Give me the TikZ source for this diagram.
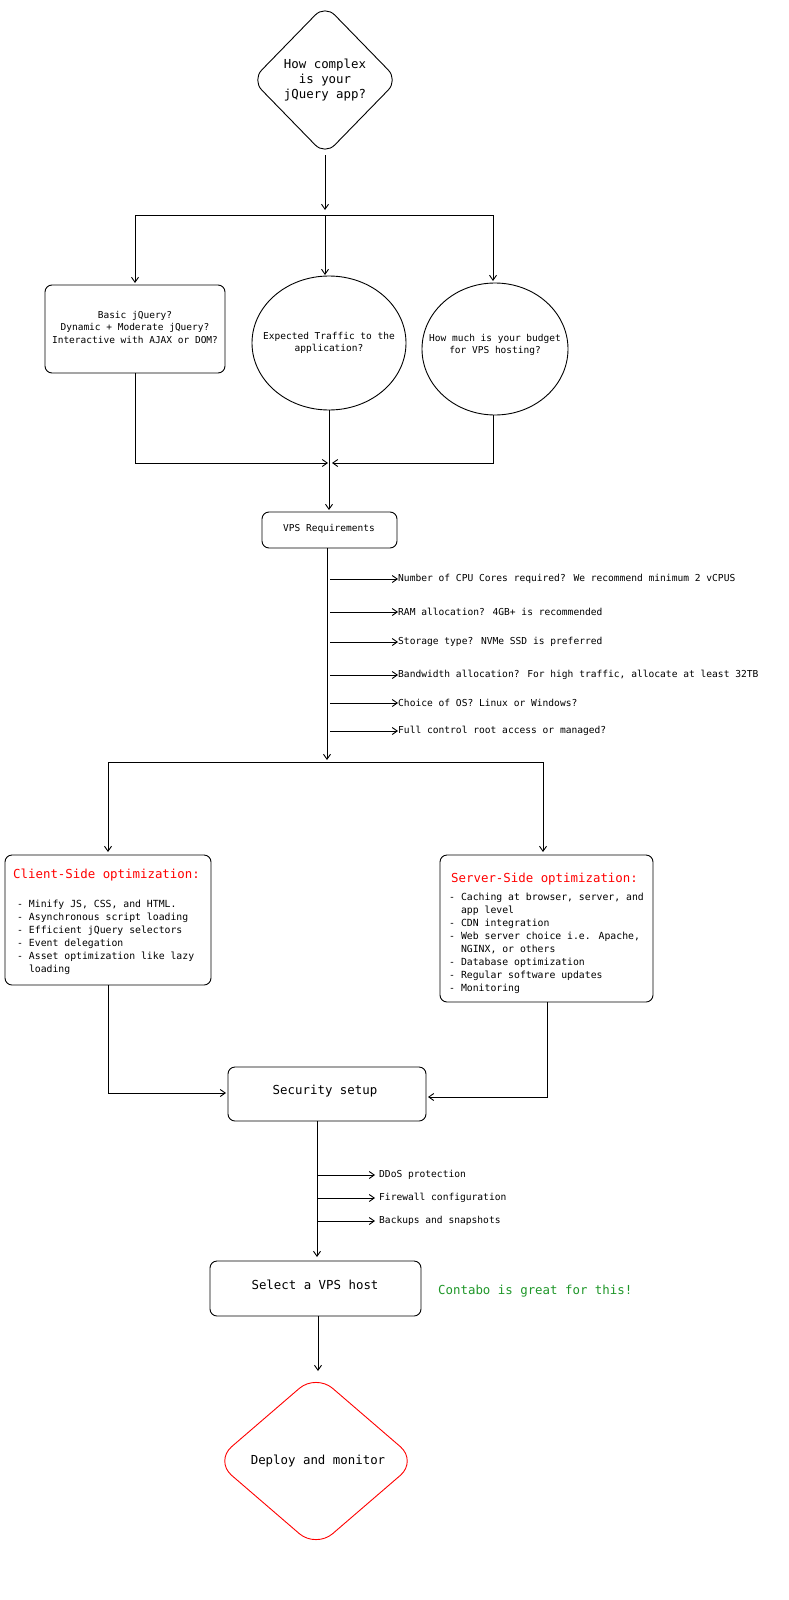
\documentclass[tikz,border=0pt]{standalone}
\usepackage{fontspec}
\setmainfont{DejaVu Sans Mono}
\usetikzlibrary{arrows.meta}
\begin{document}
\begin{tikzpicture}[x=1pt,y=-1pt,
  ln/.style={draw=black,line width=0.9pt},
  ar/.style={ln,-{Straight Barb[length=5pt,width=7pt]}},
  box/.style={draw=black,line width=0.9pt,rounded corners=7pt},
  t/.style={font=\fontsize{9.5}{12.5}\selectfont,align=center},
  big/.style={font=\fontsize{12.4}{15}\selectfont,align=center},
  tl/.style={font=\fontsize{9.6}{12}\selectfont,anchor=west},
  lst/.style={font=\fontsize{9.8}{13}\selectfont,align=left,anchor=north west,inner sep=0pt}]
\useasboundingbox (0,0) rectangle (788,1600);
% top diamond
\draw[box,rounded corners=14pt] (325,5) -- (398,80) -- (325,155) -- (252,80) -- cycle;
\node[big] (d1) at (325,80) {How complex\\is your\\jQuery app?};
\coordinate (d1b) at (325,155);
\coordinate (s1) at (325,215);
\draw[ar] (d1b) -- (325,210);
\coordinate (hl) at (135,215); \coordinate (hr) at (493,215);
\draw[ln] (hl) -- (hr);
% row 2
\draw[box] (45,285) rectangle (225,373);
\node[t] (b1) at (135,327) {Basic jQuery?\\Dynamic + Moderate jQuery?\\Interactive with AJAX or DOM?};
\draw[ln] (329,343) ellipse (77 and 67);
\node[t] (c2) at (329,343) {Expected Traffic to the\\application?};
\draw[ln] (495,349) ellipse (73 and 66);
\node[t] (c3) at (495,345) {How much is your budget\\for VPS hosting?};
\draw[ar] (hl) -- (135,283);
\draw[ar] (s1) -- (325,275);
\draw[ar] (hr) -- (493,281);
% merge
\draw[ar] (135,373) -- (135,463) -- (328,463);
\draw[ar] (493,415) -- (493,463) -- (332,463);
\draw[ar] (329,410) -- (329,510);
% VPS box
\draw[box] (262,512) rectangle (397,548);
\node[t] (vps) at (329,529) {VPS Requirements};
\draw[ar] (327,548) -- (327,760);
\foreach \y/\tx in {579/{Number of CPU Cores required? We recommend minimum 2 vCPUS},
  612/{ RAM allocation? 4GB+ is recommended},
  642/{Storage type? NVMe SSD is preferred},
  675/{ Bandwidth allocation? For high traffic, allocate at least 32TB},
  703/{ Choice of OS? Linux or Windows?},
  731/{ Full control root access or managed?}}{
  \draw[ar] (330,\y) -- (398,\y);
  \node[tl,inner sep=0pt] at (398,\y) {\tx};
}
\coordinate (h2l) at (108,762); \coordinate (h2r) at (543,762);
\draw[ln] (h2l) -- (h2r);
\draw[ar] (h2l) -- (108,852);
\draw[ar] (h2r) -- (543,852);
% client / server
\draw[box] (5,855) rectangle (211,985);
\node[big,text=red,anchor=west,inner sep=0pt] (cs) at (13,875) {Client-Side optimization:};
\node[lst] (cl) at (17,900) {- Minify JS, CSS, and HTML.\\- Asynchronous script loading\\- Efficient jQuery selectors\\- Event delegation\\- Asset optimization like lazy\\\phantom{- }loading};
\draw[box] (440,855) rectangle (653,1002);
\node[big,text=red,anchor=west,inner sep=0pt] (ss) at (451,879) {Server-Side optimization:};
\node[lst] (sl) at (449,893) {- Caching at browser, server, and\\\phantom{- }app level\\- CDN integration\\- Web server choice i.e. Apache,\\\phantom{- }NGINX, or others\\- Database optimization\\- Regular software updates\\- Monitoring};
\draw[ar] (108,985) -- (108,1093) -- (226,1093);
\draw[ar] (547,1002) -- (547,1097) -- (428,1097);
% security
\draw[box] (228,1067) rectangle (426,1121);
\node[big] (sec) at (325,1091) {Security setup};
\draw[ar] (317,1121) -- (317,1257);
\foreach \y/\tx in {1175/{DDoS protection},1198/{Firewall configuration},1221/{Backups and snapshots}}{
  \draw[ar] (317,\y) -- (375,\y);
  \node[tl,inner sep=0pt] at (379,\y) {\tx};
}
\draw[box] (210,1261) rectangle (421,1316);
\node[big] (sel) at (315,1285) {Select a VPS host};
\node[big,text={rgb,255:red,30;green,150;blue,40},anchor=west,inner sep=0pt] (ct) at (438,1291) {Contabo is great for this!};
\draw[ar] (318,1316) -- (318,1371);
\draw[box,draw=red,rounded corners=22pt] (316,1374) -- (417,1461) -- (316,1548) -- (215,1461) -- cycle;
\node[big] (dep) at (318,1461) {Deploy and monitor};
\end{tikzpicture}
\end{document}
